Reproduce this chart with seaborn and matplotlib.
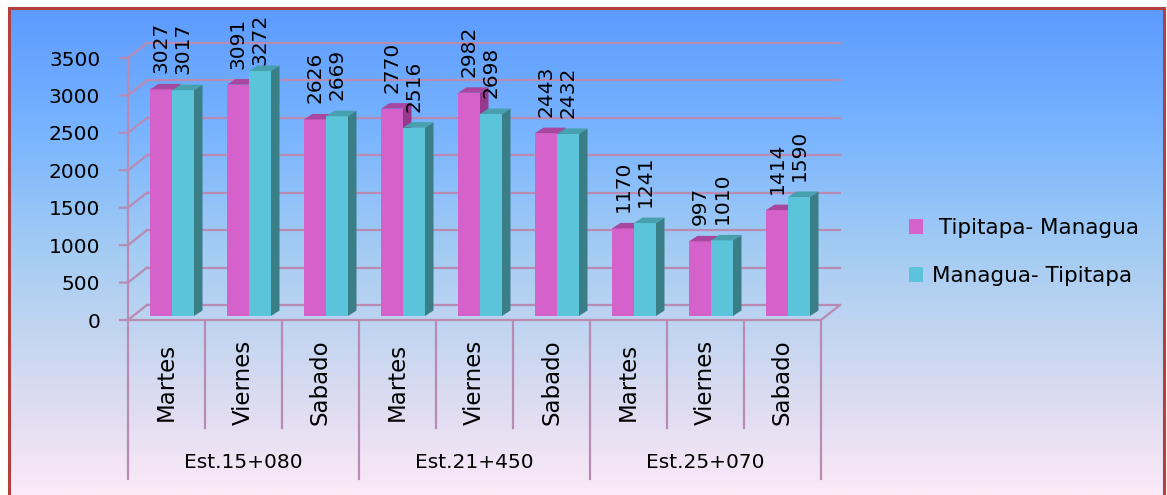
import numpy as np
import pandas as pd
import matplotlib
matplotlib.use("Agg")
import matplotlib.pyplot as plt
import seaborn as sns
from matplotlib.patches import Polygon, Rectangle

# ---------------- data ----------------
stations = ["Est.15+080", "Est.21+450", "Est.25+070"]
days = ["Martes", "Viernes", "Sabado"]
series = ["Tipitapa- Managua", "Managua- Tipitapa"]
tip_man = [3027, 3091, 2626, 2770, 2982, 2443, 1170, 997, 1414]
man_tip = [3017, 3272, 2669, 2516, 2698, 2432, 1241, 1010, 1590]
y_ticks = [0, 500, 1000, 1500, 2000, 2500, 3000, 3500]

# ---------------- style ----------------
plt.rcParams["font.family"] = ["DejaVu Sans"]
MAG, MAG_TOP, MAG_SIDE = "#D562CB", "#A8479F", "#96388D"
CYA, CYA_TOP, CYA_SIDE = "#5CC4DA", "#47A0AE", "#3A7E88"
GRID = "#B98AB2"

W, H = 1167, 495
fig = plt.figure(figsize=(W / 100, H / 100), dpi=100, facecolor="white")

# background gradient inside the red frame
bx0, by0, bx1 = 9, 8, 1164
bg = fig.add_axes([bx0 / W, 0, (bx1 - bx0) / W, (H - by0) / H])
stops = np.array([0.0, 0.25, 0.5, 0.7, 0.85, 1.0])
cols = np.array([(92, 155, 255), (120, 180, 255), (164, 204, 243),
                 (200, 215, 240), (228, 222, 242), (252, 234, 248)]) / 255
t = np.linspace(0, 1, 256)
grad = np.stack([np.interp(t, stops, cols[:, k]) for k in range(3)], axis=-1)
bg.imshow(grad[:, None, :], aspect="auto", extent=(0, 1, 0, 1))
bg.set_axis_off()
fig.add_artist(Rectangle((bx0 / W, -0.02), (bx1 - bx0) / W, (H - by0) / H + 0.02,
                         transform=fig.transFigure, fill=False,
                         edgecolor="#B3403C", linewidth=2.2, zorder=10))

# plot box (front plane) in pixels
L, R, T, B = 128, 821, 58, 320
ax = fig.add_axes([L / W, 1 - B / H, (R - L) / W, (B - T) / H])
ax.patch.set_visible(False)
n = len(stations) * len(days)
px_x = n / (R - L)                 # data units per pixel
px_y = y_ticks[-1] / (B - T)

cats = [f"{s} {d}" for s in stations for d in days]
df = pd.DataFrame({
    "cat": cats * 2,
    "valor": tip_man + man_tip,
    "sentido": [series[0]] * n + [series[1]] * n,
})
sns.barplot(data=df, x="cat", y="valor", hue="sentido", order=cats,
            hue_order=series, palette=[MAG, CYA], width=44 / 77,
            saturation=1, linewidth=0, ax=ax, legend=True)

ax.set_xlim(-0.5, n - 0.5)
ax.set_ylim(0, y_ticks[-1])
for s in ax.spines.values():
    s.set_visible(False)
ax.set_xlabel("")
ax.set_ylabel("")
ax.set_xticks([])
ax.set_yticks(y_ticks)
ax.tick_params(axis="y", length=0, pad=20, labelsize=14.5, labelcolor="black")

# 3D walls
DX, DY = 19 * px_x, 15 * px_y
tick_len = 8 * px_x
x0, x1 = -0.5, n - 0.5
for yt in y_ticks:
    ax.plot([x0 + DX, x1 + DX], [yt + DY, yt + DY], color=GRID, lw=1.6, zorder=1, clip_on=False)
    ax.plot([x0 - tick_len, x0, x0 + DX], [yt, yt, yt + DY], color=GRID, lw=1.6, zorder=1, clip_on=False)
ax.plot([x0, x0], [0, y_ticks[-1]], color=GRID, lw=1.6, zorder=1, clip_on=False)
ax.plot([x0, x1, x1 + DX], [0, 0, DY], color=GRID, lw=1.6, zorder=1, clip_on=False)

# category dividers and labels
for k in range(n + 1):
    depth = 479 if k % len(days) == 0 else 428
    ax.plot([k - 0.5, k - 0.5], [0, -(depth - B) * px_y], color=GRID, lw=1.6,
            clip_on=False, zorder=1)
for i, c in enumerate(cats):
    ax.text(i, -(382 - B) * px_y, days[i % len(days)], rotation=90, ha="center",
            va="center", fontsize=16.5, clip_on=False)
for g, st in enumerate(stations):
    ax.text(g * len(days) + (len(days) - 1) / 2, -(463 - B) * px_y, st, ha="center",
            va="center", fontsize=14.5, clip_on=False)

# shift bars to mid depth and add 3D faces + labels
sx, sy = 5.5 * px_x, 4 * px_y
bdx, bdy = 8.5 * px_x, 5.5 * px_y
faces = [(MAG_TOP, MAG_SIDE), (CYA_TOP, CYA_SIDE)]
values = [tip_man, man_tip]
for h, cont in enumerate(ax.containers):
    ztop = 2 + 2 * h
    for rect, v in zip(cont, values[h]):
        rect.set_x(rect.get_x() + sx)
        rect.set_y(rect.get_y() + sy)
        rect.set_zorder(ztop)
        x, y, w, hh = rect.get_x(), rect.get_y(), rect.get_width(), rect.get_height()
        top = y + hh
        ax.add_patch(Polygon([(x + w, y), (x + w + bdx, y + bdy), (x + w + bdx, top + bdy),
                              (x + w, top)], closed=True, facecolor=faces[h][1],
                             edgecolor="none", zorder=ztop + 0.5, clip_on=False))
        ax.add_patch(Polygon([(x, top), (x + w, top), (x + w + bdx, top + bdy),
                              (x + bdx, top + bdy)], closed=True, facecolor=faces[h][0],
                             edgecolor="none", zorder=ztop + 0.5, clip_on=False))
        top_px = B - top / px_y
        off = min(16, top_px - 14 - 51)
        ax.annotate(str(v), (x + w / 2, top), xytext=(0, off), textcoords="offset pixels",
                    rotation=90, ha="center", va="bottom", fontsize=14.5,
                    annotation_clip=False, zorder=8)

# legend
sns.move_legend(ax, loc="center left", bbox_to_anchor=(909 / W, 1 - 252 / H),
                bbox_transform=fig.transFigure, frameon=False, fontsize=15.5,
                title=None, handlelength=0.65, handleheight=0.65,
                handletextpad=0.4, labelspacing=1.3, borderpad=0, borderaxespad=0)
leg = ax.get_legend()
leg.get_texts()[0].set_text(" " + series[0])

fig.savefig("out.png", dpi=100, facecolor="white")
